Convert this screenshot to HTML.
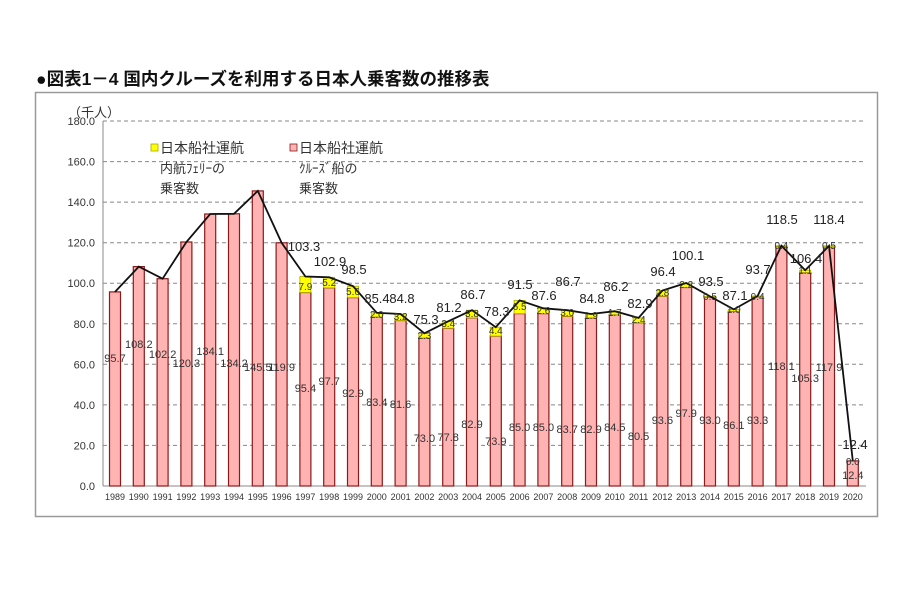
<!DOCTYPE html>
<html><head><meta charset="utf-8"><style>
body{margin:0;background:#fff;width:900px;height:600px;overflow:hidden}
svg{position:absolute;left:0;top:0}
text{font-family:"Liberation Sans","Noto Sans CJK JP",sans-serif}
</style></head><body>
<svg width="900" height="600" viewBox="0 0 900 600">
<text x="36" y="85" font-size="17.5" font-weight="bold" fill="#111">●図表1－4 国内クルーズを利用する日本人乗客数の推移表</text>
<rect x="35.5" y="92.5" width="842" height="424" fill="#fff" stroke="#999" stroke-width="1.5"/>
<g stroke="#888" stroke-dasharray="4,3" stroke-width="1">
<line x1="103" y1="121" x2="866" y2="121"/><line x1="103" y1="161.6" x2="866" y2="161.6"/><line x1="103" y1="202.1" x2="866" y2="202.1"/><line x1="103" y1="242.7" x2="866" y2="242.7"/><line x1="103" y1="283.2" x2="866" y2="283.2"/><line x1="103" y1="323.8" x2="866" y2="323.8"/><line x1="103" y1="364.3" x2="866" y2="364.3"/><line x1="103" y1="404.9" x2="866" y2="404.9"/><line x1="103" y1="445.4" x2="866" y2="445.4"/>
</g>
<line x1="103" y1="121" x2="103" y2="486" stroke="#888"/>
<line x1="103" y1="486" x2="866" y2="486" stroke="#888"/>
<g font-size="11" fill="#333" text-anchor="end">
<text x="95" y="125">180.0</text><text x="95" y="165.6">160.0</text><text x="95" y="206">140.0</text><text x="95" y="246.7">120.0</text><text x="95" y="287.2">100.0</text><text x="95" y="327.8">80.0</text><text x="95" y="368.3">60.0</text><text x="95" y="408.9">40.0</text><text x="95" y="449.4">20.0</text><text x="95" y="490">0.0</text>
</g>
<text x="68" y="117" font-size="13" fill="#333">（千人）</text>
<!-- legend -->
<rect x="151" y="144" width="7" height="7" fill="#ff0" stroke="#aa0" stroke-width="0.8"/>
<text x="160" y="153" font-size="14" fill="#333">日本船社運航</text>
<text x="160" y="173" font-size="13" fill="#333">内航ﾌｪﾘｰの</text>
<text x="160" y="193" font-size="13" fill="#333">乗客数</text>
<rect x="290" y="144" width="7" height="7" fill="#ffb3b3" stroke="#8b1a1a" stroke-width="0.8"/>
<text x="299" y="153" font-size="14" fill="#333">日本船社運航</text>
<text x="299" y="173" font-size="13" fill="#333">ｸﾙｰｽﾞ船の</text>
<text x="299" y="193" font-size="13" fill="#333">乗客数</text>
<!-- bars -->
<g fill="#ffb3b3" stroke="#8b1a1a" stroke-width="1.2">
<rect x="109.5" y="291.9" width="11" height="194.1"/><rect x="133.3" y="266.6" width="11" height="219.4"/><rect x="157.1" y="278.7" width="11" height="207.3"/><rect x="180.9" y="242" width="11" height="244"/><rect x="204.7" y="214" width="11" height="272"/><rect x="228.5" y="213.8" width="11" height="272.2"/><rect x="252.3" y="190.9" width="11" height="295.1"/><rect x="276.1" y="242.8" width="11" height="243.2"/><rect x="299.9" y="292.5" width="11" height="193.5"/><rect x="323.7" y="287.9" width="11" height="198.1"/><rect x="347.5" y="297.6" width="11" height="188.4"/><rect x="371.3" y="316.9" width="11" height="169.1"/><rect x="395.1" y="320.5" width="11" height="165.5"/><rect x="418.9" y="338" width="11" height="148"/><rect x="442.7" y="328.2" width="11" height="157.8"/><rect x="466.5" y="317.9" width="11" height="168.1"/><rect x="490.3" y="336.1" width="11" height="149.9"/><rect x="514.1" y="313.6" width="11" height="172.4"/><rect x="537.9" y="313.6" width="11" height="172.4"/><rect x="561.7" y="316.3" width="11" height="169.7"/><rect x="585.5" y="317.9" width="11" height="168.1"/><rect x="609.3" y="314.6" width="11" height="171.4"/><rect x="633.1" y="322.7" width="11" height="163.3"/><rect x="656.9" y="296.2" width="11" height="189.8"/><rect x="680.7" y="287.5" width="11" height="198.5"/><rect x="704.5" y="297.4" width="11" height="188.6"/><rect x="728.3" y="311.4" width="11" height="174.6"/><rect x="752.1" y="296.8" width="11" height="189.2"/><rect x="775.9" y="246.5" width="11" height="239.5"/><rect x="799.7" y="272.5" width="11" height="213.5"/><rect x="823.5" y="246.9" width="11" height="239.1"/><rect x="847.3" y="460.9" width="11" height="25.1"/>
</g>
<g fill="#ff0" stroke="#aa0" stroke-width="0.8">
<rect x="299.9" y="276.5" width="11" height="16"/><rect x="323.7" y="277.3" width="11" height="10.6"/><rect x="347.5" y="286.2" width="11" height="11.4"/><rect x="371.3" y="312.8" width="11" height="4.1"/><rect x="395.1" y="314" width="11" height="6.5"/><rect x="418.9" y="333.3" width="11" height="4.7"/><rect x="442.7" y="321.3" width="11" height="6.9"/><rect x="466.5" y="310.2" width="11" height="7.7"/><rect x="490.3" y="327.2" width="11" height="8.9"/><rect x="514.1" y="300.4" width="11" height="13.2"/><rect x="537.9" y="308.3" width="11" height="5.3"/><rect x="561.7" y="310.2" width="11" height="6.1"/><rect x="585.5" y="314" width="11" height="3.9"/><rect x="609.3" y="311.2" width="11" height="3.4"/><rect x="633.1" y="317.9" width="11" height="4.8"/><rect x="656.9" y="290.5" width="11" height="5.7"/><rect x="680.7" y="283" width="11" height="4.5"/><rect x="704.5" y="296.4" width="11" height="1"/><rect x="728.3" y="309.4" width="11" height="2"/><rect x="752.1" y="296" width="11" height="0.8"/><rect x="775.9" y="245.7" width="11" height="0.8"/><rect x="799.7" y="270.2" width="11" height="2.3"/><rect x="823.5" y="245.9" width="11" height="1"/>
</g>
<polyline fill="none" stroke="#111" stroke-width="1.8" points="115,291.9 138.8,266.6 162.6,278.7 186.4,242 210.2,214 234,213.8 257.8,190.9 281.6,242.8 305.4,276.5 329.2,277.3 353,286.2 376.8,312.8 400.6,314 424.4,333.3 448.2,321.3 472,310.2 495.8,327.2 519.6,300.4 543.4,308.3 567.2,310.2 591,314 614.8,311.2 638.6,317.9 662.4,290.5 686.2,283 710,296.4 733.8,309.4 757.6,296 781.4,245.7 805.2,270.2 829,245.9 852.8,460.9"/>
<!-- red values -->
<g font-size="11" fill="#333" text-anchor="middle">
<text x="115" y="362">95.7</text><text x="138.8" y="348">108.2</text><text x="162.6" y="358">102.2</text><text x="186.4" y="367">120.3</text><text x="210.2" y="355">134.1</text><text x="234" y="367">134.2</text><text x="257.8" y="371">145.5</text><text x="281.6" y="371">119.9</text><text x="305.4" y="392">95.4</text><text x="329.2" y="385">97.7</text><text x="353" y="397">92.9</text><text x="376.8" y="406">83.4</text><text x="400.6" y="408">81.6</text><text x="424.4" y="442">73.0</text><text x="448.2" y="441">77.8</text><text x="472" y="428">82.9</text><text x="495.8" y="445">73.9</text><text x="519.6" y="431">85.0</text><text x="543.4" y="431">85.0</text><text x="567.2" y="433">83.7</text><text x="591" y="433">82.9</text><text x="614.8" y="431">84.5</text><text x="638.6" y="440">80.5</text><text x="662.4" y="424">93.6</text><text x="686.2" y="417">97.9</text><text x="710" y="424">93.0</text><text x="733.8" y="429">86.1</text><text x="757.6" y="424">93.3</text><text x="781.4" y="370">118.1</text><text x="805.2" y="382">105.3</text><text x="829" y="371">117.9</text><text x="852.8" y="479">12.4</text>
</g>
<!-- totals -->
<g font-size="13" fill="#222" text-anchor="middle">
<text x="304" y="251">103.3</text><text x="330" y="266">102.9</text><text x="354" y="274">98.5</text><text x="377" y="303">85.4</text><text x="402" y="303">84.8</text><text x="426" y="324">75.3</text><text x="449" y="312">81.2</text><text x="473" y="299">86.7</text><text x="497" y="316">78.3</text><text x="520" y="289">91.5</text><text x="544" y="300">87.6</text><text x="568" y="286">86.7</text><text x="592" y="303">84.8</text><text x="616" y="291">86.2</text><text x="640" y="308">82.9</text><text x="663" y="276">96.4</text><text x="688" y="260">100.1</text><text x="711" y="286">93.5</text><text x="735" y="300">87.1</text><text x="758" y="274">93.7</text><text x="782" y="224">118.5</text><text x="806" y="263">106.4</text><text x="829" y="224">118.4</text><text x="855" y="449">12.4</text>
</g>
<!-- yellow values -->
<g font-size="10" fill="#333" text-anchor="middle">
<text x="305.4" y="290">7.9</text><text x="329.2" y="286">5.2</text><text x="353" y="295">5.6</text><text x="376.8" y="318">2.0</text><text x="400.6" y="320">3.2</text><text x="424.4" y="339">2.3</text><text x="448.2" y="327">3.4</text><text x="472" y="317">3.8</text><text x="495.8" y="334">4.4</text><text x="519.6" y="310">6.5</text><text x="543.4" y="314">2.6</text><text x="567.2" y="316">3.0</text><text x="591" y="319">1.9</text><text x="614.8" y="316">1.7</text><text x="638.6" y="323">2.4</text><text x="662.4" y="296">2.8</text><text x="686.2" y="288">2.2</text><text x="710" y="300">0.5</text><text x="733.8" y="313">1.0</text><text x="757.6" y="300">0.4</text><text x="781.4" y="249">0.4</text><text x="805.2" y="274">1.1</text><text x="829" y="249">0.5</text><text x="852.8" y="465">0.0</text>
</g>
<!-- years -->
<g font-size="9" fill="#333" text-anchor="middle">
<text x="115" y="500">1989</text><text x="138.8" y="500">1990</text><text x="162.6" y="500">1991</text><text x="186.4" y="500">1992</text><text x="210.2" y="500">1993</text><text x="234" y="500">1994</text><text x="257.8" y="500">1995</text><text x="281.6" y="500">1996</text><text x="305.4" y="500">1997</text><text x="329.2" y="500">1998</text><text x="353" y="500">1999</text><text x="376.8" y="500">2000</text><text x="400.6" y="500">2001</text><text x="424.4" y="500">2002</text><text x="448.2" y="500">2003</text><text x="472" y="500">2004</text><text x="495.8" y="500">2005</text><text x="519.6" y="500">2006</text><text x="543.4" y="500">2007</text><text x="567.2" y="500">2008</text><text x="591" y="500">2009</text><text x="614.8" y="500">2010</text><text x="638.6" y="500">2011</text><text x="662.4" y="500">2012</text><text x="686.2" y="500">2013</text><text x="710" y="500">2014</text><text x="733.8" y="500">2015</text><text x="757.6" y="500">2016</text><text x="781.4" y="500">2017</text><text x="805.2" y="500">2018</text><text x="829" y="500">2019</text><text x="852.8" y="500">2020</text>
</g>
</svg>
</body></html>
